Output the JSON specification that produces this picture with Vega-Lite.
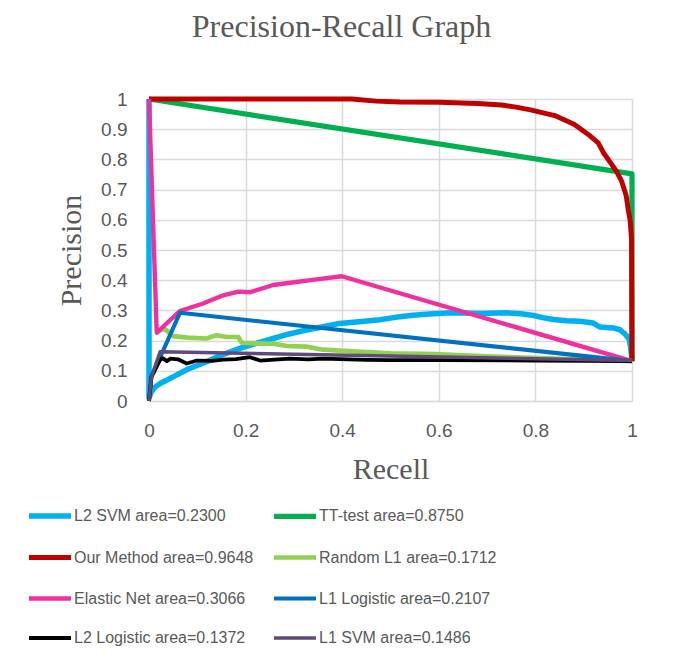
{
  "$schema": "https://vega.github.io/schema/vega-lite/v6.json",
  "width": 483,
  "height": 302,
  "autosize": {"type": "none"},
  "padding": {"left": 149, "top": 99, "right": 48, "bottom": 268},
  "background": "white",
  "title": {
    "text": "Precision-Recall Graph",
    "font": "Liberation Serif",
    "fontSize": 32,
    "fontWeight": "normal",
    "color": "#595959",
    "anchor": "middle",
    "dx": -49,
    "baseline": "alphabetic",
    "offset": 21
  },
  "data": {
    "values": [
      {"s": "L2 SVM area=0.2300", "i": 0, "x": 0, "y": 1},
      {"s": "L2 SVM area=0.2300", "i": 1, "x": 0, "y": 0.01},
      {"s": "L2 SVM area=0.2300", "i": 2, "x": 0.005, "y": 0.03},
      {"s": "L2 SVM area=0.2300", "i": 3, "x": 0.012, "y": 0.045},
      {"s": "L2 SVM area=0.2300", "i": 4, "x": 0.023, "y": 0.058},
      {"s": "L2 SVM area=0.2300", "i": 5, "x": 0.05, "y": 0.08},
      {"s": "L2 SVM area=0.2300", "i": 6, "x": 0.08, "y": 0.105},
      {"s": "L2 SVM area=0.2300", "i": 7, "x": 0.119, "y": 0.13},
      {"s": "L2 SVM area=0.2300", "i": 8, "x": 0.15, "y": 0.152},
      {"s": "L2 SVM area=0.2300", "i": 9, "x": 0.188, "y": 0.174},
      {"s": "L2 SVM area=0.2300", "i": 10, "x": 0.22, "y": 0.19},
      {"s": "L2 SVM area=0.2300", "i": 11, "x": 0.257, "y": 0.207},
      {"s": "L2 SVM area=0.2300", "i": 12, "x": 0.29, "y": 0.222},
      {"s": "L2 SVM area=0.2300", "i": 13, "x": 0.326, "y": 0.235},
      {"s": "L2 SVM area=0.2300", "i": 14, "x": 0.36, "y": 0.246},
      {"s": "L2 SVM area=0.2300", "i": 15, "x": 0.395, "y": 0.257},
      {"s": "L2 SVM area=0.2300", "i": 16, "x": 0.44, "y": 0.263},
      {"s": "L2 SVM area=0.2300", "i": 17, "x": 0.478, "y": 0.269},
      {"s": "L2 SVM area=0.2300", "i": 18, "x": 0.51, "y": 0.277},
      {"s": "L2 SVM area=0.2300", "i": 19, "x": 0.547, "y": 0.284},
      {"s": "L2 SVM area=0.2300", "i": 20, "x": 0.58, "y": 0.288},
      {"s": "L2 SVM area=0.2300", "i": 21, "x": 0.616, "y": 0.291},
      {"s": "L2 SVM area=0.2300", "i": 22, "x": 0.65, "y": 0.291},
      {"s": "L2 SVM area=0.2300", "i": 23, "x": 0.685, "y": 0.29},
      {"s": "L2 SVM area=0.2300", "i": 24, "x": 0.72, "y": 0.291},
      {"s": "L2 SVM area=0.2300", "i": 25, "x": 0.74, "y": 0.292},
      {"s": "L2 SVM area=0.2300", "i": 26, "x": 0.77, "y": 0.289},
      {"s": "L2 SVM area=0.2300", "i": 27, "x": 0.796, "y": 0.283},
      {"s": "L2 SVM area=0.2300", "i": 28, "x": 0.815, "y": 0.276},
      {"s": "L2 SVM area=0.2300", "i": 29, "x": 0.837, "y": 0.27},
      {"s": "L2 SVM area=0.2300", "i": 30, "x": 0.865, "y": 0.266},
      {"s": "L2 SVM area=0.2300", "i": 31, "x": 0.892, "y": 0.264},
      {"s": "L2 SVM area=0.2300", "i": 32, "x": 0.92, "y": 0.258},
      {"s": "L2 SVM area=0.2300", "i": 33, "x": 0.928, "y": 0.25},
      {"s": "L2 SVM area=0.2300", "i": 34, "x": 0.934, "y": 0.245},
      {"s": "L2 SVM area=0.2300", "i": 35, "x": 0.961, "y": 0.242},
      {"s": "L2 SVM area=0.2300", "i": 36, "x": 0.975, "y": 0.236},
      {"s": "L2 SVM area=0.2300", "i": 37, "x": 0.986, "y": 0.221},
      {"s": "L2 SVM area=0.2300", "i": 38, "x": 0.994, "y": 0.205},
      {"s": "L2 SVM area=0.2300", "i": 39, "x": 0.997, "y": 0.18},
      {"s": "L2 SVM area=0.2300", "i": 40, "x": 1, "y": 0.132},

      {"s": "TT-test area=0.8750", "i": 0, "x": 0, "y": 1},
      {"s": "TT-test area=0.8750", "i": 1, "x": 1, "y": 0.752},
      {"s": "TT-test area=0.8750", "i": 2, "x": 1, "y": 0.132},

      {"s": "Our Method area=0.9648", "i": 0, "x": 0, "y": 1},
      {"s": "Our Method area=0.9648", "i": 1, "x": 0.42, "y": 1},
      {"s": "Our Method area=0.9648", "i": 2, "x": 0.47, "y": 0.993},
      {"s": "Our Method area=0.9648", "i": 3, "x": 0.52, "y": 0.99},
      {"s": "Our Method area=0.9648", "i": 4, "x": 0.6, "y": 0.989},
      {"s": "Our Method area=0.9648", "i": 5, "x": 0.68, "y": 0.985},
      {"s": "Our Method area=0.9648", "i": 6, "x": 0.73, "y": 0.98},
      {"s": "Our Method area=0.9648", "i": 7, "x": 0.76, "y": 0.973},
      {"s": "Our Method area=0.9648", "i": 8, "x": 0.79, "y": 0.964},
      {"s": "Our Method area=0.9648", "i": 9, "x": 0.84, "y": 0.945},
      {"s": "Our Method area=0.9648", "i": 10, "x": 0.88, "y": 0.916},
      {"s": "Our Method area=0.9648", "i": 11, "x": 0.913, "y": 0.878},
      {"s": "Our Method area=0.9648", "i": 12, "x": 0.93, "y": 0.855},
      {"s": "Our Method area=0.9648", "i": 13, "x": 0.941, "y": 0.822},
      {"s": "Our Method area=0.9648", "i": 14, "x": 0.955, "y": 0.79},
      {"s": "Our Method area=0.9648", "i": 15, "x": 0.968, "y": 0.76},
      {"s": "Our Method area=0.9648", "i": 16, "x": 0.978, "y": 0.73},
      {"s": "Our Method area=0.9648", "i": 17, "x": 0.982, "y": 0.71},
      {"s": "Our Method area=0.9648", "i": 18, "x": 0.988, "y": 0.68},
      {"s": "Our Method area=0.9648", "i": 19, "x": 0.992, "y": 0.635},
      {"s": "Our Method area=0.9648", "i": 20, "x": 0.996, "y": 0.6},
      {"s": "Our Method area=0.9648", "i": 21, "x": 0.999, "y": 0.535},
      {"s": "Our Method area=0.9648", "i": 22, "x": 1, "y": 0.132},

      {"s": "Random L1 area=0.1712", "i": 0, "x": 0.016, "y": 0.226},
      {"s": "Random L1 area=0.1712", "i": 1, "x": 0.025, "y": 0.236},
      {"s": "Random L1 area=0.1712", "i": 2, "x": 0.033, "y": 0.238},
      {"s": "Random L1 area=0.1712", "i": 3, "x": 0.05, "y": 0.215},
      {"s": "Random L1 area=0.1712", "i": 4, "x": 0.08, "y": 0.21},
      {"s": "Random L1 area=0.1712", "i": 5, "x": 0.119, "y": 0.207},
      {"s": "Random L1 area=0.1712", "i": 6, "x": 0.14, "y": 0.218},
      {"s": "Random L1 area=0.1712", "i": 7, "x": 0.16, "y": 0.212},
      {"s": "Random L1 area=0.1712", "i": 8, "x": 0.185, "y": 0.212},
      {"s": "Random L1 area=0.1712", "i": 9, "x": 0.192, "y": 0.193},
      {"s": "Random L1 area=0.1712", "i": 10, "x": 0.23, "y": 0.19},
      {"s": "Random L1 area=0.1712", "i": 11, "x": 0.257, "y": 0.19},
      {"s": "Random L1 area=0.1712", "i": 12, "x": 0.285, "y": 0.182},
      {"s": "Random L1 area=0.1712", "i": 13, "x": 0.326, "y": 0.18},
      {"s": "Random L1 area=0.1712", "i": 14, "x": 0.36, "y": 0.17},
      {"s": "Random L1 area=0.1712", "i": 15, "x": 0.395, "y": 0.167},
      {"s": "Random L1 area=0.1712", "i": 16, "x": 0.45, "y": 0.162},
      {"s": "Random L1 area=0.1712", "i": 17, "x": 0.5, "y": 0.158},
      {"s": "Random L1 area=0.1712", "i": 18, "x": 0.59, "y": 0.155},
      {"s": "Random L1 area=0.1712", "i": 19, "x": 0.7, "y": 0.148},
      {"s": "Random L1 area=0.1712", "i": 20, "x": 1, "y": 0.132},

      {"s": "Elastic Net area=0.3066", "i": 0, "x": 0, "y": 1},
      {"s": "Elastic Net area=0.3066", "i": 1, "x": 0.016, "y": 0.226},
      {"s": "Elastic Net area=0.3066", "i": 2, "x": 0.064, "y": 0.298},
      {"s": "Elastic Net area=0.3066", "i": 3, "x": 0.112, "y": 0.323},
      {"s": "Elastic Net area=0.3066", "i": 4, "x": 0.154, "y": 0.35},
      {"s": "Elastic Net area=0.3066", "i": 5, "x": 0.185, "y": 0.362},
      {"s": "Elastic Net area=0.3066", "i": 6, "x": 0.209, "y": 0.36},
      {"s": "Elastic Net area=0.3066", "i": 7, "x": 0.257, "y": 0.384},
      {"s": "Elastic Net area=0.3066", "i": 8, "x": 0.285, "y": 0.39},
      {"s": "Elastic Net area=0.3066", "i": 9, "x": 0.347, "y": 0.403},
      {"s": "Elastic Net area=0.3066", "i": 10, "x": 0.399, "y": 0.413},
      {"s": "Elastic Net area=0.3066", "i": 11, "x": 1, "y": 0.132},

      {"s": "L1 Logistic area=0.2107", "i": 0, "x": 0, "y": 0},
      {"s": "L1 Logistic area=0.2107", "i": 1, "x": 0.005, "y": 0.08},
      {"s": "L1 Logistic area=0.2107", "i": 2, "x": 0.064, "y": 0.292},
      {"s": "L1 Logistic area=0.2107", "i": 3, "x": 1, "y": 0.132},

      {"s": "L2 Logistic area=0.1372", "i": 0, "x": 0, "y": 0},
      {"s": "L2 Logistic area=0.1372", "i": 1, "x": 0.005, "y": 0.08},
      {"s": "L2 Logistic area=0.1372", "i": 2, "x": 0.023, "y": 0.136},
      {"s": "L2 Logistic area=0.1372", "i": 3, "x": 0.028, "y": 0.142},
      {"s": "L2 Logistic area=0.1372", "i": 4, "x": 0.037, "y": 0.132},
      {"s": "L2 Logistic area=0.1372", "i": 5, "x": 0.044, "y": 0.14},
      {"s": "L2 Logistic area=0.1372", "i": 6, "x": 0.06, "y": 0.138},
      {"s": "L2 Logistic area=0.1372", "i": 7, "x": 0.078, "y": 0.124},
      {"s": "L2 Logistic area=0.1372", "i": 8, "x": 0.099, "y": 0.134},
      {"s": "L2 Logistic area=0.1372", "i": 9, "x": 0.13, "y": 0.133},
      {"s": "L2 Logistic area=0.1372", "i": 10, "x": 0.154, "y": 0.137},
      {"s": "L2 Logistic area=0.1372", "i": 11, "x": 0.18, "y": 0.139},
      {"s": "L2 Logistic area=0.1372", "i": 12, "x": 0.209, "y": 0.145},
      {"s": "L2 Logistic area=0.1372", "i": 13, "x": 0.23, "y": 0.134},
      {"s": "L2 Logistic area=0.1372", "i": 14, "x": 0.26, "y": 0.137},
      {"s": "L2 Logistic area=0.1372", "i": 15, "x": 0.292, "y": 0.14},
      {"s": "L2 Logistic area=0.1372", "i": 16, "x": 0.33, "y": 0.138},
      {"s": "L2 Logistic area=0.1372", "i": 17, "x": 0.36, "y": 0.14},
      {"s": "L2 Logistic area=0.1372", "i": 18, "x": 0.395, "y": 0.139},
      {"s": "L2 Logistic area=0.1372", "i": 19, "x": 0.45, "y": 0.136},
      {"s": "L2 Logistic area=0.1372", "i": 20, "x": 0.5, "y": 0.135},
      {"s": "L2 Logistic area=0.1372", "i": 21, "x": 0.6, "y": 0.135},
      {"s": "L2 Logistic area=0.1372", "i": 22, "x": 0.8, "y": 0.134},
      {"s": "L2 Logistic area=0.1372", "i": 23, "x": 1, "y": 0.132},

      {"s": "L1 SVM area=0.1486", "i": 0, "x": 0, "y": 0},
      {"s": "L1 SVM area=0.1486", "i": 1, "x": 0.005, "y": 0.08},
      {"s": "L1 SVM area=0.1486", "i": 2, "x": 0.023, "y": 0.163},
      {"s": "L1 SVM area=0.1486", "i": 3, "x": 1, "y": 0.134}
    ]
  },
  "mark": {"type": "line", "strokeJoin": "round", "strokeCap": "butt"},
  "encoding": {
    "x": {
      "field": "x",
      "type": "quantitative",
      "scale": {"domain": [0, 1], "nice": false, "zero": false},
      "axis": {
        "title": "Recell",
        "values": [0, 0.2, 0.4, 0.6, 0.8, 1],
        "format": "~g",
        "grid": true,
        "gridColor": "#D9D9D9",
        "gridWidth": 1.5,
        "domain": true,
        "domainColor": "#D9D9D9",
        "domainWidth": 1.5,
        "ticks": false,
        "labelFlush": false,
        "labelFont": "Liberation Sans",
        "labelFontSize": 19,
        "labelColor": "#595959",
        "labelPadding": 20,
        "titleFont": "Liberation Serif",
        "titleFontSize": 30,
        "titleFontWeight": "normal",
        "titleColor": "#595959",
        "titlePadding": 14
      }
    },
    "y": {
      "field": "y",
      "type": "quantitative",
      "scale": {"domain": [0, 1], "nice": false, "zero": false},
      "axis": {
        "title": "Precision",
        "values": [0, 0.1, 0.2, 0.3, 0.4, 0.5, 0.6, 0.7, 0.8, 0.9, 1],
        "format": "~g",
        "grid": true,
        "gridColor": "#D9D9D9",
        "gridWidth": 1.5,
        "domain": false,
        "ticks": false,
        "labelFlush": false,
        "labelFont": "Liberation Sans",
        "labelFontSize": 19,
        "labelColor": "#595959",
        "labelPadding": 22,
        "titleFont": "Liberation Serif",
        "titleFontSize": 30,
        "titleFontWeight": "normal",
        "titleColor": "#595959",
        "titlePadding": 14
      }
    },
    "color": {
      "field": "s",
      "type": "nominal",
      "scale": {
        "domain": ["L2 SVM area=0.2300", "TT-test area=0.8750", "Our Method area=0.9648", "Random L1 area=0.1712", "Elastic Net area=0.3066", "L1 Logistic area=0.2107", "L2 Logistic area=0.1372", "L1 SVM area=0.1486"],
        "range": ["#00B0F0", "#00B050", "#C00000", "#92D050", "#F0309C", "#0070C0", "#000000", "#604A7B"]
      },
      "legend": {
        "title": null,
        "orient": "none",
        "legendX": -123,
        "legendY": 393,
        "direction": "horizontal",
        "columns": 2,
        "columnPadding": 9,
        "rowPadding": 7,
        "padding": 0,
        "symbolType": "stroke",
        "symbolSize": 1764,
        "symbolStrokeWidth": 4.5,
        "labelOffset": 0,
        "labelFont": "Liberation Sans",
        "labelFontSize": 16,
        "labelColor": "#595959",
        "labelLimit": 400
      }
    },
    "strokeWidth": {
      "field": "s",
      "type": "nominal",
      "scale": {
        "domain": ["L2 SVM area=0.2300", "TT-test area=0.8750", "Our Method area=0.9648", "Random L1 area=0.1712", "Elastic Net area=0.3066", "L1 Logistic area=0.2107", "L2 Logistic area=0.1372", "L1 SVM area=0.1486"],
        "range": [5.5, 3.5, 3.5, 3.5, 3.5, 3.5, 3.5, 3.5]
      },
      "legend": null
    },
    "order": {"field": "i", "type": "quantitative"}
  },
  "config": {
    "view": {"stroke": null}
  }
}
